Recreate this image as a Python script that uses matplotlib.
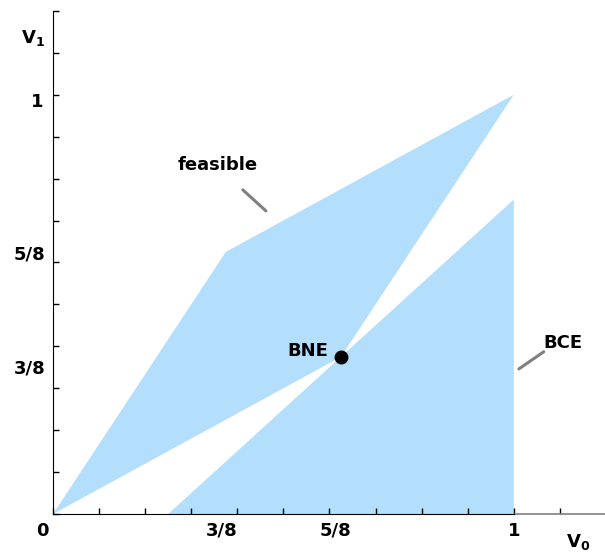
import matplotlib.pyplot as plt

plt.rcParams['font.family'] = ['DejaVu Sans']
plt.rcParams['mathtext.default'] = 'bf'

# regions (v0, v1)
feasible_v0 = [0, 3/8, 1, 5/8]
feasible_v1 = [0, 5/8, 1, 3/8]
bce_v0 = [1/4, 1, 1]
bce_v1 = [0, 3/4, 0]
bne = (5/8, 3/8)

x_ticks = [i / 10 for i in range(12)]
y_ticks = [i / 10 for i in range(13)]
x_labels = [(-0.024, '0'), (0.367, '3/8'), (0.614, '5/8'), (1.0, '1')]
y_labels = [(0.983, '1'), (0.618, '5/8'), (0.346, '3/8')]

blue = '#b3defc'

fig = plt.figure(figsize=(6.05, 5.56), dpi=100)
ax = fig.add_axes([0.0876, 0.0755, 0.914, 0.905])

ax.fill(feasible_v0, feasible_v1, color=blue, lw=0)
ax.fill(bce_v0, bce_v1, color=blue, lw=0)
ax.plot(*bne, 'o', color='black', ms=9)

ax.set_xlim(0, 1.2)
ax.set_ylim(0, 1.2)
for s in ['top', 'right']:
    ax.spines[s].set_visible(False)
ax.spines['bottom'].set_bounds(0, 1)
ax.plot([1, 1.2], [0, 0], color='gray', lw=1.2, clip_on=False)

ax.set_xticks(x_ticks)
ax.set_yticks(y_ticks)
ax.set_xticklabels([])
ax.set_yticklabels([])
ax.tick_params(direction='in', length=4, width=1)
ax.xaxis.get_major_ticks()[-1].tick1line.set_color('gray')

tf = dict(fontsize=13, fontweight='bold', ha='center', va='center')
for x, t in x_labels:
    ax.text(x, -0.04, t, **tf)
for y, t in y_labels:
    ax.text(-0.05 if t != '1' else -0.035, y, t, **tf)

ax.text(-0.043, 1.136, '$V_1$', **tf)
ax.text(1.139, -0.067, '$V_0$', **tf)

ax.text(0.358, 0.833, 'feasible', **tf)
ax.plot([0.412, 0.462], [0.773, 0.723], color='gray', lw=2.2, solid_capstyle='round')
ax.text(0.553, 0.389, 'BNE', **tf)
ax.text(1.106, 0.408, 'BCE', **tf)
ax.plot([1.011, 1.065], [0.346, 0.387], color='gray', lw=2.2, solid_capstyle='round')

fig.savefig('out.png', dpi=100)
